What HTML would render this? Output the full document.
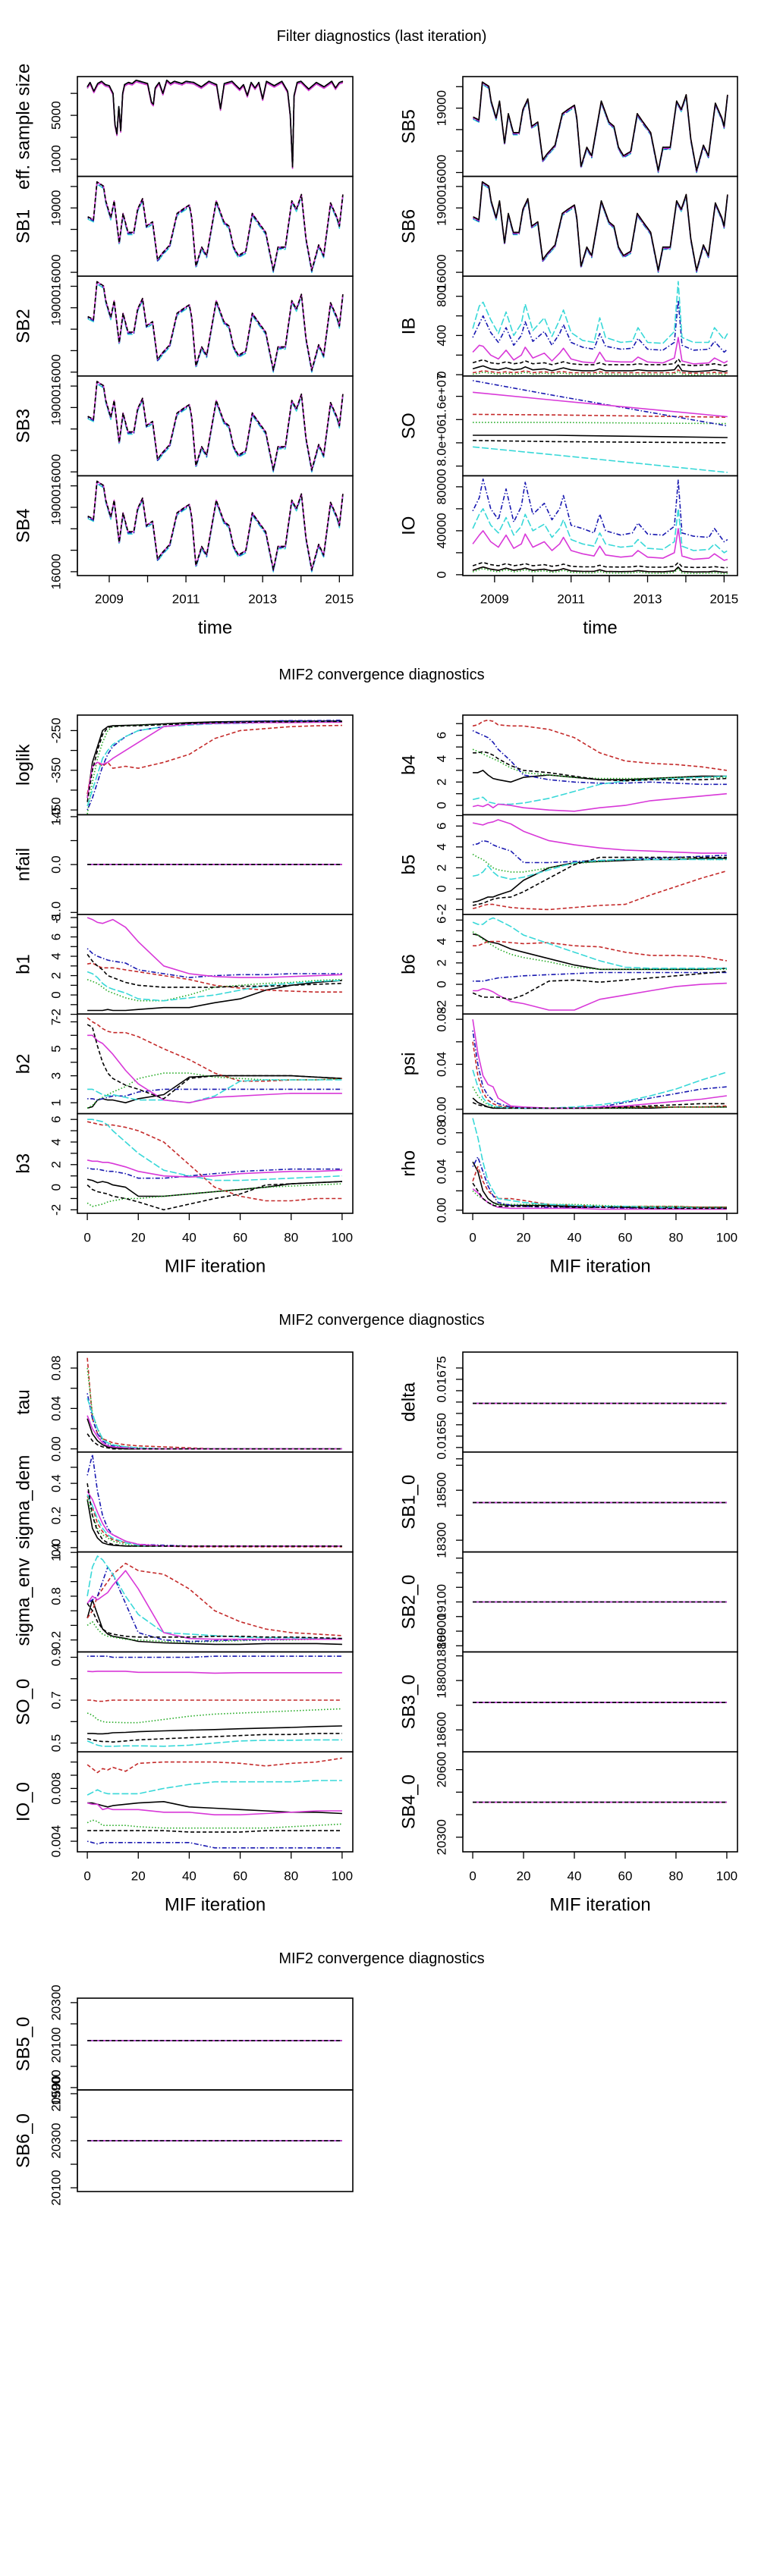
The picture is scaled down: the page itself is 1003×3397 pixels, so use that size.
<!DOCTYPE html>
<html><head><meta charset="utf-8">
<style>
html,body{margin:0;padding:0;background:#fff;}
svg{display:block;font-family:"Liberation Sans",Arial,sans-serif;}
</style></head>
<body>
<svg id="fig" width="1003" height="3397" viewBox="0 0 1003 3397" xmlns="http://www.w3.org/2000/svg"></svg>
<script>
// ---------- data: filter diagnostics (time series) ----------
const sbT = [2008.44,2008.59,2008.68,2008.85,2008.91,2009.04,2009.13,2009.26,2009.36,2009.49,2009.64,2009.74,2009.87,2009.97,2010.13,2010.26,2010.38,2010.58,2010.77,2010.92,2011.09,2011.15,2011.26,2011.41,2011.54,2011.79,2011.99,2012.12,2012.24,2012.37,2012.56,2012.73,2012.88,2013.08,2013.28,2013.40,2013.59,2013.76,2013.88,2014.01,2014.13,2014.28,2014.46,2014.59,2014.77,2014.94,2015.0,2015.09];
const sbV = [18588,18451,20215,20019,19333,18549,19333,17373,18745,17863,17863,18941,19431,18157,18353,16589,16883,17275,18745,18941,19137,18549,16295,17177,16785,19333,18353,18157,17177,16785,16981,18745,18353,17863,16099,17177,17177,19333,18941,19627,17569,16099,17275,16785,19235,18549,18157,19627];
const essT = [2008.43,2008.5,2008.6,2008.7,2008.8,2008.9,2009.0,2009.1,2009.15,2009.2,2009.25,2009.3,2009.35,2009.4,2009.5,2009.6,2009.7,2009.8,2009.9,2010.0,2010.1,2010.15,2010.2,2010.3,2010.4,2010.5,2010.6,2010.7,2010.8,2010.9,2011.0,2011.2,2011.4,2011.6,2011.8,2011.9,2012.0,2012.2,2012.4,2012.5,2012.6,2012.7,2012.8,2012.9,2013.0,2013.1,2013.3,2013.5,2013.65,2013.72,2013.78,2013.82,2013.9,2014.0,2014.2,2014.4,2014.6,2014.8,2014.9,2015.0,2015.09];
const essV = [7600,8000,7200,7900,8100,7800,7700,7000,4200,3300,5800,3600,7000,7800,8000,7900,8200,8100,8000,7900,6200,6000,7500,8000,7000,8200,7900,8100,8000,7900,8100,8000,7600,8100,7800,5600,7900,8100,7400,7800,6800,8000,7500,8000,6500,8100,7700,8100,7200,5000,300,6800,8000,8100,7400,8000,7600,8100,7500,8000,8100];
const ibT = [2008.43,2008.6,2008.7,2008.9,2009.1,2009.3,2009.5,2009.7,2009.8,2010.0,2010.3,2010.5,2010.7,2010.8,2011.0,2011.3,2011.6,2011.75,2011.9,2012.3,2012.6,2012.75,2013.0,2013.4,2013.7,2013.8,2013.9,2014.2,2014.6,2014.75,2015.0,2015.09];
const ibCyan = [470,700,740,560,420,640,400,520,720,450,580,390,560,660,430,350,330,580,380,330,340,480,330,320,440,950,380,330,330,480,360,420];
const ibBlue = [380,520,600,430,330,480,300,400,540,340,440,300,420,510,330,280,260,420,290,260,270,370,260,250,330,760,300,250,260,340,230,260];
const ibMagenta = [230,300,290,200,160,250,150,200,280,170,220,140,220,270,160,130,120,230,140,130,130,180,130,120,170,380,140,110,120,170,120,140];
const ibBlack = [60,80,90,60,50,70,50,60,80,50,60,40,60,70,50,40,40,60,40,40,40,50,40,40,50,100,40,30,40,50,30,40];
const ibLow = [20,30,40,30,20,30,20,30,40,20,30,20,30,30,20,20,20,30,20,20,20,20,20,20,20,50,20,15,20,25,15,20];
const soT = [2008.43,2010.6,2015.09];
const soSeries = [[9.3e6,9.3e6,8.9e6],[1.29e7,1.28e7,1.24e7],[1.15e7,1.15e7,1.13e7],[1.87e7,1.61e7,1.09e7],[7.3e6,5.9e6,2.9e6],[1.67e7,1.53e7,1.25e7],[8.4e6,8.2e6,8.0e6]];
const ioBlue = [58000,70000,87000,60000,50000,78000,48000,62000,84000,55000,65000,50000,60000,72000,45000,42000,38000,55000,40000,36000,38000,47000,37000,36000,44000,86000,38000,35000,34000,42000,30000,32000];
const ioCyan = [42000,55000,60000,45000,38000,52000,36000,44000,55000,40000,46000,34000,42000,50000,32000,28000,26000,38000,28000,25000,26000,32000,24000,23000,30000,60000,26000,22000,23000,28000,20000,22000];
const ioMagenta = [28000,36000,40000,30000,25000,36000,24000,28000,37000,25000,30000,22000,28000,34000,22000,19000,17000,26000,18000,16000,17000,22000,16000,15000,20000,42000,17000,14000,15000,19000,13000,14000];
const ioBlack = [4000,6000,7000,5000,4000,6000,4000,5000,6000,4000,5000,3500,4500,5500,3500,3000,3000,4500,3000,2800,3000,3800,2800,2600,3500,7000,3000,2500,2600,3200,2200,2500];
const yearTicks = [2009,2010,2011,2012,2013,2014,2015];
const yearLabels = ['2009','','2011','','2013','','2015'];

// ---------- data: MIF2 convergence (order: black, red, green, blue, cyan, magenta, black-dashed) ----------
const mifIter = [0,2,4,6,8,10,15,20,30,40,50,60,70,80,90,100];
const iterTicks = [0,20,40,60,80,100];
const loglikSeries = [
 [-420,-330,-290,-250,-240,-238,-237,-236,-233,-230,-228,-227,-226,-226,-226,-226],
 [-410,-340,-330,-340,-330,-345,-340,-345,-330,-310,-270,-250,-245,-240,-238,-237],
 [-460,-380,-320,-280,-250,-240,-238,-237,-235,-232,-230,-229,-228,-228,-227,-227],
 [-450,-420,-380,-340,-310,-290,-265,-250,-240,-233,-230,-228,-226,-225,-225,-224],
 [-440,-400,-360,-320,-300,-285,-265,-250,-240,-236,-233,-232,-230,-229,-228,-228],
 [-420,-340,-330,-335,-330,-320,-300,-280,-240,-234,-232,-231,-230,-230,-229,-229],
 [-430,-350,-300,-260,-242,-240,-238,-238,-235,-232,-230,-229,-228,-228,-227,-227]];
const nfailValues = [0,0,0,0,0,0,0,0,0,0,0,0,0,0,0,0];
const b1Series = [
 [-1.6,-1.6,-1.6,-1.6,-1.5,-1.6,-1.6,-1.5,-1.3,-1.3,-0.8,-0.4,0.5,1.0,1.3,1.5],
 [3.2,3.3,3.0,2.8,2.8,2.8,2.6,2.4,2.0,1.6,1.0,0.7,0.5,0.4,0.3,0.3],
 [1.6,1.4,1.2,0.8,0.4,0.2,-0.3,-0.6,-0.6,0.0,0.8,1.0,1.2,1.3,1.5,1.6],
 [4.8,4.3,4.0,3.8,3.6,3.5,3.3,2.6,2.2,1.8,2.0,2.1,2.1,2.2,2.2,2.2],
 [2.4,2.2,1.8,1.2,0.8,0.6,0.2,-0.4,-0.6,-0.3,0.0,0.5,1.0,1.2,1.4,1.5],
 [8,7.8,7.5,7.4,7.6,7.8,7,5.5,3,2.2,1.9,1.8,1.8,1.9,2.0,2.1],
 [4.2,3.5,3.0,2.6,2.0,1.8,1.3,1.0,0.8,0.8,0.8,0.9,0.9,1.0,1.1,1.2]];
const b2Series = [
 [0.6,0.7,1.2,1.3,1.2,1.2,1.0,1.3,1.6,2.9,3.0,3.0,3.0,3.0,2.9,2.8],
 [7.3,7,6.8,6.5,6.3,6.2,6.2,5.9,5.0,4.2,3.2,2.6,2.6,2.7,2.7,2.8],
 [0.6,0.8,1.2,1.4,1.6,1.8,2.2,2.8,3.2,3.2,2.9,2.8,2.7,2.7,2.7,2.8],
 [1.3,1.3,1.2,1.3,1.4,1.5,1.5,1.8,2.0,2.0,2.0,2.0,2.0,2.0,2.0,2.0],
 [2.0,2.0,1.8,1.6,1.5,1.6,1.4,1.2,1.2,1.0,1.5,2.6,2.7,2.7,2.7,2.7],
 [6.0,6.0,5.6,5.4,5.0,4.6,3.4,2.4,1.2,1.0,1.4,1.5,1.6,1.7,1.7,1.7],
 [6.8,6.6,5.2,4.0,3.2,2.8,2.3,2.0,1.3,2.8,3.0,3.0,3.0,3.0,2.9,2.8]];
const b3Series = [
 [0.7,0.6,0.4,0.5,0.4,0.2,0.0,-0.8,-0.8,-0.6,-0.4,-0.2,0.0,0.3,0.4,0.5],
 [5.8,5.7,5.6,5.5,5.5,5.5,5.3,5.0,4.0,2.0,0.0,-0.8,-1.2,-1.2,-1.0,-1.0],
 [-1.4,-1.7,-1.6,-1.5,-1.3,-1.2,-1.0,-1.0,-0.8,-0.6,-0.4,-0.2,0.0,0.1,0.2,0.3],
 [1.7,1.6,1.6,1.5,1.4,1.4,1.2,0.8,0.8,1.0,1.2,1.4,1.5,1.6,1.6,1.6],
 [6.0,6.0,5.9,5.8,5.5,5.0,4.0,3.0,1.5,1.0,0.6,0.6,0.7,0.8,0.9,1.0],
 [2.4,2.3,2.3,2.2,2.2,2.1,1.8,1.4,1.0,0.9,1.0,1.2,1.3,1.4,1.4,1.5],
 [0.2,-0.2,-0.4,-0.5,-0.6,-0.8,-1.0,-1.3,-2.0,-1.5,-1.0,-0.6,0.2,0.3,0.4,0.5]];
const b4Series = [
 [2.8,2.8,3.0,2.6,2.3,2.2,2.0,2.4,2.6,2.4,2.2,2.2,2.3,2.4,2.5,2.5],
 [6.8,6.9,7.2,7.3,7.2,6.9,6.8,6.8,6.5,5.8,4.5,3.8,3.6,3.5,3.3,3.0],
 [4.8,4.6,4.4,4.2,4.0,3.8,3.2,2.8,2.6,2.4,2.3,2.3,2.3,2.4,2.4,2.4],
 [6.4,6.2,6.0,5.8,5.4,4.8,3.8,2.6,2.2,2.0,1.9,1.9,2.0,1.9,1.8,1.8],
 [0.5,0.6,0.7,0.3,0.2,0.1,0.1,0.2,0.6,1.2,1.8,2.1,2.2,2.3,2.4,2.5],
 [-0.1,0.0,-0.1,0.1,-0.2,0.1,0.0,-0.2,-0.4,-0.5,-0.2,0.0,0.4,0.6,0.8,1.0],
 [4.5,4.5,4.6,4.5,4.3,4.0,3.4,3.0,2.8,2.5,2.2,2.1,2.2,2.2,2.2,2.3]];
const b5Series = [
 [-1.3,-1.2,-1.0,-0.8,-0.8,-0.6,-0.2,0.8,2.0,2.5,2.6,2.7,2.8,2.8,2.9,2.9],
 [-1.9,-1.8,-1.6,-1.5,-1.5,-1.6,-1.8,-1.9,-2.0,-1.8,-1.6,-1.5,-0.6,0.2,1.0,1.7],
 [3.3,3.0,2.8,2.4,2.0,1.8,1.6,1.6,2.0,2.4,2.6,2.8,2.9,2.9,2.8,2.8],
 [4.2,4.3,4.6,4.5,4.2,4.0,3.6,2.5,2.5,2.6,2.7,2.8,2.9,3.0,3.1,3.2],
 [1.2,1.3,1.6,2.2,1.6,1.2,0.9,1.1,1.8,2.5,2.7,2.8,2.8,2.8,2.8,2.8],
 [6.3,6.2,6.1,6.3,6.4,6.6,6.2,5.5,4.6,4.2,3.9,3.7,3.6,3.5,3.4,3.4],
 [-1.6,-1.5,-1.4,-1.2,-1.0,-0.9,-0.8,-0.3,1.0,2.3,3.0,3.0,3.0,3.0,3.0,3.0]];
const b6Series = [
 [4.7,4.6,4.3,4.0,3.9,3.8,3.3,3.0,2.4,1.8,1.4,1.4,1.4,1.4,1.4,1.5],
 [3.6,3.6,3.8,4.0,4.0,4.0,3.9,3.8,3.9,3.6,3.5,3.0,2.7,2.7,2.6,2.2],
 [4.9,4.6,4.2,3.9,3.6,3.3,2.8,2.5,2.1,1.6,1.4,1.4,1.4,1.4,1.4,1.4],
 [0.3,0.3,0.3,0.4,0.5,0.6,0.7,0.8,0.9,1.0,1.1,1.1,1.1,1.1,1.1,1.1],
 [5.8,5.6,5.6,6.0,6.2,6.0,5.4,4.6,3.8,3.0,2.2,1.6,1.5,1.5,1.5,1.5],
 [-0.6,-0.6,-0.4,-0.5,-0.7,-1.0,-1.6,-1.8,-2.4,-2.4,-1.4,-1.0,-0.6,-0.2,0.0,0.1],
 [-0.8,-1.0,-1.2,-1.2,-1.2,-1.2,-1.4,-1.0,0.3,0.4,0.2,0.4,0.6,0.8,1.0,1.2]];
const psiSeries = [
 [0.01,0.006,0.004,0.002,0.001,0.001,0.001,0.001,0.001,0.001,0.001,0.001,0.001,0.002,0.002,0.002],
 [0.06,0.03,0.015,0.008,0.005,0.003,0.002,0.001,0.001,0.001,0.001,0.002,0.002,0.002,0.002,0.003],
 [0.02,0.012,0.007,0.004,0.002,0.002,0.001,0.001,0.001,0.001,0.001,0.001,0.002,0.002,0.002,0.002],
 [0.07,0.04,0.02,0.012,0.008,0.005,0.002,0.001,0.001,0.001,0.002,0.006,0.010,0.014,0.018,0.020],
 [0.035,0.02,0.01,0.005,0.003,0.002,0.001,0.001,0.001,0.002,0.004,0.007,0.012,0.018,0.026,0.033],
 [0.08,0.05,0.03,0.022,0.02,0.01,0.003,0.002,0.001,0.001,0.002,0.003,0.005,0.007,0.009,0.012],
 [0.006,0.004,0.003,0.002,0.001,0.001,0.001,0.001,0.001,0.001,0.001,0.002,0.003,0.004,0.005,0.005]];
const rhoSeries = [
 [0.05,0.04,0.02,0.012,0.008,0.006,0.005,0.005,0.005,0.004,0.004,0.003,0.003,0.003,0.003,0.003],
 [0.03,0.045,0.03,0.02,0.015,0.012,0.012,0.01,0.006,0.005,0.004,0.004,0.004,0.004,0.003,0.003],
 [0.02,0.015,0.012,0.008,0.006,0.006,0.006,0.006,0.006,0.006,0.005,0.004,0.004,0.004,0.003,0.003],
 [0.045,0.055,0.04,0.025,0.015,0.008,0.005,0.004,0.003,0.003,0.003,0.002,0.002,0.002,0.002,0.002],
 [0.095,0.075,0.05,0.03,0.02,0.012,0.01,0.008,0.006,0.005,0.004,0.004,0.003,0.003,0.002,0.002],
 [0.022,0.018,0.012,0.008,0.005,0.003,0.002,0.002,0.002,0.002,0.001,0.001,0.001,0.001,0.001,0.001],
 [0.028,0.02,0.012,0.008,0.005,0.004,0.004,0.004,0.004,0.003,0.003,0.003,0.002,0.002,0.002,0.002]];
const tauSeries = [
 [0.03,0.015,0.008,0.004,0.002,0.001,0,0,0,0,0,0,0,0,0,0],
 [0.09,0.03,0.015,0.01,0.008,0.006,0.004,0.003,0.002,0.001,0,0,0,0,0,0],
 [0.08,0.035,0.02,0.01,0.006,0.004,0.002,0.001,0,0,0,0,0,0,0,0],
 [0.055,0.03,0.015,0.008,0.004,0.003,0.002,0.001,0,0,0,0,0,0,0,0],
 [0.05,0.035,0.02,0.01,0.006,0.004,0.002,0.001,0,0,0,0,0,0,0,0],
 [0.033,0.02,0.012,0.006,0.003,0.002,0.001,0,0,0,0,0,0,0,0,0],
 [0.015,0.008,0.004,0.002,0.001,0,0,0,0,0,0,0,0,0,0,0]];
const sigmaDemSeries = [
 [0.3,0.12,0.06,0.03,0.02,0.015,0.01,0.01,0.01,0.01,0.01,0.01,0.01,0.01,0.01,0.01],
 [0.32,0.25,0.15,0.1,0.07,0.05,0.03,0.015,0.01,0.005,0.005,0.005,0.005,0.005,0.005,0.005],
 [0.3,0.2,0.12,0.08,0.06,0.04,0.02,0.01,0.01,0.01,0.01,0.01,0.01,0.01,0.01,0.01],
 [0.45,0.58,0.35,0.2,0.12,0.08,0.04,0.02,0.015,0.01,0.01,0.01,0.01,0.01,0.01,0.01],
 [0.33,0.26,0.18,0.12,0.08,0.06,0.03,0.015,0.01,0.01,0.01,0.01,0.01,0.01,0.01,0.01],
 [0.35,0.3,0.22,0.15,0.1,0.08,0.04,0.02,0.01,0.01,0.01,0.01,0.01,0.01,0.01,0.01],
 [0.4,0.2,0.1,0.05,0.03,0.02,0.01,0.01,0.01,0.01,0.01,0.01,0.01,0.01,0.01,0.01]];
const sigmaEnvSeries = [
 [0.5,0.75,0.55,0.35,0.28,0.25,0.22,0.18,0.16,0.15,0.14,0.14,0.15,0.15,0.15,0.14],
 [0.5,0.6,0.8,0.9,1.0,1.1,1.25,1.15,1.1,0.9,0.6,0.45,0.35,0.3,0.28,0.26],
 [0.4,0.45,0.35,0.28,0.25,0.24,0.21,0.2,0.18,0.17,0.18,0.19,0.2,0.2,0.21,0.21],
 [0.7,0.75,0.8,1.0,1.2,1.1,0.7,0.3,0.2,0.18,0.19,0.2,0.2,0.21,0.21,0.22],
 [0.8,1.2,1.35,1.3,1.2,1.1,0.8,0.55,0.3,0.28,0.26,0.24,0.23,0.23,0.22,0.22],
 [0.7,0.8,0.75,0.8,0.85,0.95,1.15,0.9,0.3,0.22,0.21,0.21,0.21,0.21,0.21,0.21],
 [0.7,0.6,0.45,0.35,0.3,0.28,0.25,0.24,0.24,0.24,0.25,0.25,0.24,0.24,0.23,0.22]];
const so0Series = [
 [0.545,0.545,0.543,0.543,0.545,0.548,0.55,0.553,0.557,0.56,0.563,0.567,0.57,0.573,0.577,0.58],
 [0.70,0.70,0.695,0.695,0.698,0.7,0.7,0.7,0.7,0.7,0.7,0.7,0.7,0.7,0.7,0.7],
 [0.64,0.63,0.61,0.6,0.597,0.597,0.595,0.595,0.61,0.625,0.635,0.64,0.645,0.65,0.655,0.66],
 [0.905,0.905,0.905,0.905,0.905,0.9,0.9,0.9,0.9,0.9,0.905,0.905,0.905,0.905,0.905,0.905],
 [0.51,0.50,0.49,0.485,0.485,0.485,0.487,0.487,0.485,0.49,0.5,0.51,0.513,0.513,0.515,0.515],
 [0.835,0.833,0.835,0.835,0.835,0.835,0.835,0.83,0.83,0.83,0.826,0.828,0.828,0.828,0.828,0.828],
 [0.52,0.515,0.51,0.507,0.507,0.505,0.51,0.515,0.52,0.525,0.53,0.535,0.54,0.54,0.545,0.545]];
const io0Series = [
 [0.0069,0.0069,0.0068,0.0067,0.0066,0.0067,0.0068,0.0069,0.007,0.0066,0.0065,0.0064,0.0063,0.0062,0.0062,0.0061],
 [0.0098,0.0095,0.0092,0.0095,0.0094,0.0096,0.0093,0.0099,0.01,0.01,0.01,0.0099,0.0097,0.0099,0.01,0.0103],
 [0.0054,0.0056,0.0055,0.0052,0.0052,0.0052,0.0052,0.0051,0.005,0.005,0.005,0.005,0.005,0.0051,0.0052,0.0053],
 [0.004,0.0039,0.0038,0.0039,0.0039,0.0039,0.0039,0.0039,0.0039,0.0039,0.0035,0.0035,0.0035,0.0035,0.0035,0.0035],
 [0.0075,0.0077,0.0079,0.0077,0.0076,0.0076,0.0076,0.0076,0.008,0.0083,0.0085,0.0085,0.0085,0.0085,0.0086,0.0086],
 [0.0069,0.0068,0.0068,0.0064,0.0065,0.0064,0.0064,0.0064,0.0062,0.0062,0.006,0.006,0.0061,0.0062,0.0063,0.0063],
 [0.0048,0.0048,0.0048,0.0048,0.0048,0.0048,0.0048,0.0048,0.0048,0.0047,0.0047,0.0047,0.0048,0.0048,0.0048,0.0048]];
const flatIter = [0,100];
const flatNames = ['delta','SB1_0','SB2_0','SB3_0','SB4_0','SB5_0','SB6_0'];
const flatValues = [0.016644,18451,19100,18711,20455,20121,20300];

// ---------- rendering ----------
const NS = 'http://www.w3.org/2000/svg';
const svg = document.getElementById('fig');
const styles = [
  {c:'#000000', d:null},
  {c:'#c42a2a', d:'5,3'},
  {c:'#22aa22', d:'1.5,2.5'},
  {c:'#1818b0', d:'1.5,2.5,6,2.5'},
  {c:'#38d8d8', d:'9,3'},
  {c:'#d838d8', d:null},
  {c:'#000000', d:'5,3'}];
const styleNames = ['black-solid','red-dashed','green-dotted','blue-dotdash','cyan-longdash','magenta-solid','black-dashed'];
let clipId = 0;
function mk(tag, attrs, parent){
  const e = document.createElementNS(NS, tag);
  for (const k in attrs) e.setAttribute(k, attrs[k]);
  (parent || svg).appendChild(e);
  return e;
}
function txt(x, y, s, size, rot, parent){
  const t = mk('text', {x:x, y:y, 'font-size':size, 'text-anchor':'middle', 'dominant-baseline':'central', fill:'#000'}, parent);
  if (rot) t.setAttribute('transform', 'rotate(-90 '+x+' '+y+')');
  t.textContent = s;
  return t;
}
function title(y, s){
  const t = txt(503, y, s, 20, false);
  
  
}
function panel(x0, y0, x1, y1, xlim, ylim, yticks, ylabs, ylab){
  const g = mk('g', {});
  
  
  const sx = v => x0 + (v - xlim[0]) / (xlim[1] - xlim[0]) * (x1 - x0);
  const sy = v => y1 - (v - ylim[0]) / (ylim[1] - ylim[0]) * (y1 - y0);
  const id = 'clip' + (clipId++);
  const cp = mk('clipPath', {id:id}, g);
  mk('rect', {x:x0, y:y0, width:x1-x0, height:y1-y0}, cp);
  const lg = mk('g', {'clip-path':'url(#'+id+')'}, g);
  
  
  const box = mk('rect', {x:x0, y:y0, width:x1-x0, height:y1-y0, fill:'none', stroke:'#000', 'stroke-width':1.6}, g);
  
  
  const ax = mk('g', {}, g);
  
  
  yticks.forEach((v, i) => {
    const y = sy(v);
    mk('line', {x1:x0-9, x2:x0, y1:y, y2:y, stroke:'#000', 'stroke-width':1.3}, ax);
    if (ylabs[i]) {
      const t = txt(x0-28, y, ylabs[i], 17, true, ax);
      
      
    }
  });
  mk('line', {x1:x0, x2:x0, y1:sy(yticks[0]), y2:sy(yticks[yticks.length-1]), stroke:'#000', 'stroke-width':1.3}, ax);
  const yt = txt(x0-71, (y0+y1)/2, ylab, 24, true, g);
  
  
  return {sx, sy, lg, x0, x1, y0, y1};
}
function line(p, xs, ys, si, dy){
  const st = styles[si];
  const pts = xs.map((x, i) => p.sx(x).toFixed(1) + ',' + (p.sy(ys[i]) + (dy||0)).toFixed(1)).join(' ');
  const a = {points:pts, fill:'none', stroke:st.c, 'stroke-width':1.6, 'stroke-linejoin':'round'};
  if (st.d) a['stroke-dasharray'] = st.d;
  const e = mk('polyline', a, p.lg);
  
  
  return e;
}
function xaxis(p, ticks, labels, xlab, labY, titleY){
  const g = mk('g', {});
  
  
  ticks.forEach((v, i) => {
    const x = p.sx(v);
    mk('line', {x1:x, x2:x, y1:p.y1, y2:p.y1+9, stroke:'#000', 'stroke-width':1.3}, g);
    if (labels[i]) {
      const t = txt(x, labY, labels[i], 17, false, g);
      
      
    }
  });
  mk('line', {x1:p.sx(ticks[0]), x2:p.sx(ticks[ticks.length-1]), y1:p.y1, y2:p.y1, stroke:'#000', 'stroke-width':1.3}, g);
  const t = txt((p.x0+p.x1)/2, titleY, xlab, 24, false, g);
  
  
}
function range(a, b, s){ const r=[]; for (let v=a; v<=b+1e-9; v+=s) r.push(+v.toFixed(8)); return r; }

const LX = [102, 465], RX = [610, 972];
const TX = [2008.17, 2015.35], MX = [-3.9, 104.2];

// ===== Section 1 =====
title(48, 'Filter diagnostics (last iteration)');
const r1 = i => [101 + i*131.6, 101 + (i+1)*131.6];
let p, rr;
rr = r1(0);
p = panel(LX[0], rr[0], LX[1], rr[1], TX, [-560, 8530], [1000,3000,5000,7000], ['1000','','5000',''], 'eff. sample size');
[1,2,3,4,6,5,0].forEach(si => line(p, essT, essV, si, si===0?0:(si%3)));
const sbTicks = [16000,17000,18000,19000,20000], sbLabs = ['16000','','','19000',''];
['SB1','SB2','SB3','SB4'].forEach((nm, k) => {
  rr = r1(k+1);
  p = panel(LX[0], rr[0], LX[1], rr[1], TX, [15820, 20470], sbTicks, sbLabs, nm);
  line(p, sbT, sbV, 4, 3); line(p, sbT, sbV, 3, 1.5); line(p, sbT, sbV, 2, 0);
  line(p, sbT, sbV, 1, 0); line(p, sbT, sbV, 5, 0); line(p, sbT, sbV, 6, 0);
  if (k === 3) xaxis(p, yearTicks, yearLabels, 'time', 790, 828);
});
['SB5','SB6'].forEach((nm, k) => {
  rr = r1(k);
  p = panel(RX[0], rr[0], RX[1], rr[1], TX, [15820, 20470], sbTicks, sbLabs, nm);
  line(p, sbT, sbV, 4, 3); line(p, sbT, sbV, 3, 2); line(p, sbT, sbV, 5, 1);
  line(p, sbT, sbV, 1, 0); line(p, sbT, sbV, 0, 0);
});
rr = r1(2);
p = panel(RX[0], rr[0], RX[1], rr[1], TX, [-13, 1005], [0,200,400,600,800], ['0','','400','','800'], 'IB');
line(p, ibT, ibLow, 1, 0); line(p, ibT, ibLow, 2, 2); line(p, ibT, ibBlack, 0, 0); line(p, ibT, ibBlack, 6, -8);
line(p, ibT, ibBlue, 3, 0); line(p, ibT, ibCyan, 4, 0); line(p, ibT, ibMagenta, 5, 0);
rr = r1(3);
p = panel(RX[0], rr[0], RX[1], rr[1], TX, [2.33e6, 1.95e7], [4e6,8e6,1.2e7,1.6e7], ['','8.0e+06','','1.6e+07'], 'SO');
soSeries.forEach((s, si) => line(p, soT, s, si, 0));
rr = r1(4);
p = panel(RX[0], rr[0], RX[1], rr[1], TX, [-776, 90016], [0,20000,40000,60000,80000], ['0','','40000','','80000'], 'IO');
line(p, ibT, ioBlack, 1, 0); line(p, ibT, ioBlack, 2, 2); line(p, ibT, ioBlack, 0, 0); line(p, ibT, ioBlack, 6, -6);
line(p, ibT, ioBlue, 3, 0); line(p, ibT, ioCyan, 4, 0); line(p, ibT, ioMagenta, 5, 0);
xaxis(p, yearTicks, yearLabels, 'time', 790, 828);

// ===== Section 2 =====
title(890, 'MIF2 convergence diagnostics');
const r2 = i => [943 + i*131.4, 943 + (i+1)*131.4];
const iterLabs = iterTicks.map(String);
function mifPanel(col, row, rowFn, ylim, yt, yl, name, series){
  const rw = rowFn(row), X = col ? RX : LX;
  const q = panel(X[0], rw[0], X[1], rw[1], MX, ylim, yt, yl, name);
  series.forEach((s, si) => line(q, mifIter, s, si, 0));
  return q;
}
const evenLab = t => t.map(v => (Math.round(v) % 2 === 0) ? String(v) : '');
mifPanel(0,0,r2,[-462,-211],[-450,-400,-350,-300,-250],['-450','','-350','','-250'],'loglik',loglikSeries);
p = panel(LX[0], r2(1)[0], LX[1], r2(1)[1], MX, [-1.04,1.04], [-1,-0.5,0,0.5,1], ['-1.0','','0.0','','1.0'], 'nfail');
styles.forEach((s, si) => line(p, mifIter, nfailValues, si, 0));
let t = range(-2,8,1); mifPanel(0,2,r2,[-1.97,8.33],t,evenLab(t),'b1',b1Series);
t = range(1,7,1); mifPanel(0,3,r2,[0.19,7.58],t,t.map(v=>v%2?String(v):''),'b2',b2Series);
t = range(-2,6,1); p = mifPanel(0,4,r2,[-2.31,6.51],t,evenLab(t),'b3',b3Series);
xaxis(p, iterTicks, iterLabs, 'MIF iteration', 1632, 1670);
t = range(0,7,1); mifPanel(1,0,r2,[-0.8,7.73],t,evenLab(t),'b4',b4Series);
t = range(-2,7,1); mifPanel(1,1,r2,[-2.46,7.08],t,evenLab(t),'b5',b5Series);
t = range(-2,6,1); mifPanel(1,2,r2,[-2.77,6.53],t,evenLab(t),'b6',b6Series);
mifPanel(1,3,r2,[-0.0039,0.0847],[0,0.02,0.04,0.06,0.08],['0.00','','0.04','','0.08'],'psi',psiSeries);
p = mifPanel(1,4,r2,[-0.0032,0.0997],[0,0.02,0.04,0.06,0.08],['0.00','','0.04','','0.08'],'rho',rhoSeries);
xaxis(p, iterTicks, iterLabs, 'MIF iteration', 1632, 1670);

// ===== Section 3 =====
title(1741, 'MIF2 convergence diagnostics');
const r3 = i => [1783 + i*131.8, 1783 + (i+1)*131.8];
mifPanel(0,0,r3,[-0.0031,0.0958],[0,0.02,0.04,0.06,0.08],['0.00','','0.04','','0.08'],'tau',tauSeries);
mifPanel(0,1,r3,[-0.027,0.595],[0,0.1,0.2,0.3,0.4,0.5],['0.0','','0.2','','0.4',''],'sigma_dem',sigmaDemSeries);
mifPanel(0,2,r3,[0.036,1.406],[0.2,0.4,0.6,0.8,1.0,1.2,1.4],['0.2','','','0.8','','','1.4'],'sigma_env',sigmaEnvSeries);
mifPanel(0,3,r3,[0.459,0.925],[0.5,0.6,0.7,0.8,0.9],['0.5','','0.7','','0.9'],'SO_0',so0Series);
p = mifPanel(0,4,r3,[0.0032,0.01077],range(0.004,0.010,0.001),['0.004','','','','0.008','',''],'IO_0',io0Series);
xaxis(p, iterTicks, iterLabs, 'MIF iteration', 2474, 2512);
const flatCfg = [
  {ylim:[0.01643,0.01687], ticks:range(0.0164,0.0168,0.00005), labs:['','','0.01650','','','','','0.01675','']},
  {ylim:[18253,18653], ticks:[18300,18400,18500,18600], labs:['18300','','18500','']},
  {ylim:[18758,19442], ticks:[18800,18900,19000,19100,19200,19300,19400], labs:['18800','18900','','19100','','','']},
  {ylim:[18511,18916], ticks:[18600,18700,18800,18900], labs:['18600','','18800','']},
  {ylim:[20235,20679], ticks:[20300,20400,20500,20600], labs:['20300','','','20600']}];
flatCfg.forEach((c, k) => {
  const rw = r3(k);
  const q = panel(RX[0], rw[0], RX[1], rw[1], MX, c.ylim, c.ticks, c.labs, flatNames[k]);
  styles.forEach((s, si) => line(q, flatIter, [flatValues[k], flatValues[k]], si, 0));
  if (k === 4) xaxis(q, iterTicks, iterLabs, 'MIF iteration', 2474, 2512);
});

// ===== Section 4 =====
title(2583, 'MIF2 convergence diagnostics');
p = panel(LX[0], 2635, LX[1], 2756, MX, [19889,20321], [19900,20000,20100,20200,20300], ['19900','','20100','','20300'], 'SB5_0');
styles.forEach((s, si) => line(p, flatIter, [flatValues[5], flatValues[5]], si, 0));
p = panel(LX[0], 2756, LX[1], 2890, MX, [20084,20516], [20100,20200,20300,20400,20500], ['20100','','20300','','20500'], 'SB6_0');
styles.forEach((s, si) => line(p, flatIter, [flatValues[6], flatValues[6]], si, 0));
</script>
</body></html>
